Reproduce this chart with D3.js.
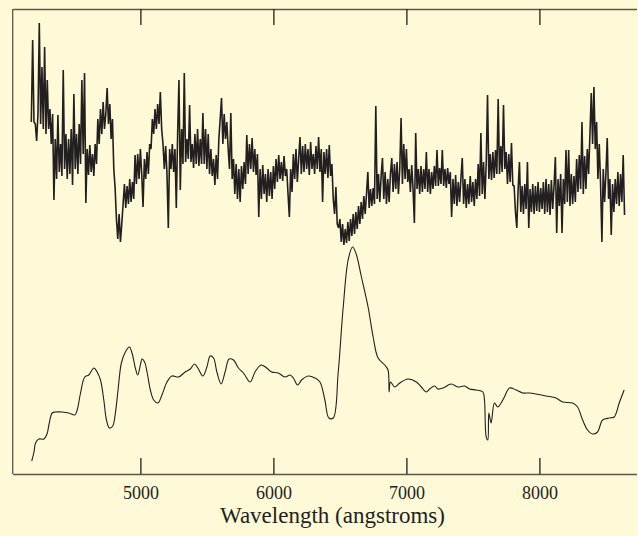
<!DOCTYPE html>
<html><head><meta charset="utf-8">
<script src="https://cdn.jsdelivr.net/npm/d3@7"></script>
<style>
html,body{margin:0;padding:0;background:#fef9d6;}
svg{display:block;}
</style></head>
<body>
<svg id="chart" width="638" height="536"></svg>
<script>
// ---- data ----
const xTicks = [5000, 6000, 7000, 8000];
const xLabel = "Wavelength (angstroms)";

// upper (noisy) spectrum: sampled every 10 Å from 4180 Å, relative flux
const noisyStart = 4180, noisyStep = 10;
const noisyFlux = [
3.52,4.34,3.52,3.50,
3.33,3.60,4.51,3.50,4.07,3.45,4.27,
3.40,3.94,3.45,3.65,3.30,3.60,
2.74,3.35,2.95,3.59,3.02,3.30,2.98,
4.04,3.05,3.40,2.95,3.35,3.00,3.45,2.89,3.80,3.05,
3.40,3.00,3.50,3.10,3.94,3.20,4.01,2.71,
3.25,2.99,3.29,3.02,3.20,2.98,3.30,
3.10,3.55,3.30,3.65,3.40,3.72,3.45,3.60,3.86,3.50,3.70,3.35,3.55,
3.05,2.86,
2.55,2.35,2.60,2.32,2.50,
2.70,2.90,2.66,2.88,2.70,2.95,2.72,2.92,2.75,3.19,
2.90,3.20,2.95,3.25,3.00,2.67,3.15,2.95,3.22,3.00,3.30,
3.25,3.55,3.40,3.65,3.45,3.70,3.50,3.82,3.45,
3.30,3.05,3.28,3.00,2.46,3.25,3.05,3.30,3.02,3.25,
2.66,3.40,3.94,2.84,3.45,3.10,4.01,
3.12,3.35,3.15,3.69,3.12,3.30,
3.06,3.40,3.10,3.45,3.08,3.35,3.10,
3.61,3.10,3.45,3.05,3.40,3.00,3.25,2.98,
3.15,2.89,3.19,2.95,
3.35,3.55,3.76,3.30,3.60,3.35,3.52,3.25,
3.05,3.61,2.95,3.15,2.80,3.10,2.75,3.05,2.72,3.08,2.85,3.12,2.90,
3.39,3.00,3.30,3.05,3.36,3.02,3.25,2.99,3.20,
2.57,3.05,2.75,3.09,2.80,3.00,2.72,3.05,2.78,3.02,2.75,3.08,2.85,
3.15,2.92,3.19,2.95,3.12,2.93,3.18,2.98,
3.05,2.80,2.57,3.05,2.82,
3.20,2.95,3.25,2.92,3.15,3.37,
3.00,3.28,3.02,3.30,3.05,3.25,2.99,3.32,3.05,3.20,3.00,3.28,3.05,3.37,3.02,3.25,2.72,3.22,3.00,
3.25,2.96,3.29,2.98,3.10,
2.75,2.60,2.87,2.50,2.46,
2.55,2.32,2.50,2.29,2.45,2.31,2.52,2.33,2.55,2.38,
2.60,2.40,2.62,2.45,2.68,2.50,2.72,2.55,2.78,2.60,2.80,3.02,
2.66,2.85,2.68,2.86,2.70,
3.68,
2.75,3.00,2.72,2.98,3.16,2.75,3.02,2.70,2.95,2.72,3.00,3.16,
2.82,3.10,2.85,3.12,2.80,3.05,3.56,2.90,
3.30,2.95,3.25,2.92,
3.05,2.82,3.09,2.85,2.51,3.41,2.85,
3.05,2.80,3.08,2.82,3.05,2.85,3.22,2.82,3.05,2.80,3.02,2.85,3.08,2.88,
3.24,2.88,3.06,2.90,3.24,2.88,3.05,2.86,3.06,2.90,3.02,
2.57,2.95,2.70,2.99,2.68,2.92,2.72,2.96,3.16,2.70,2.95,2.66,2.90,2.70,2.98,2.72,2.92,2.68,2.95,
2.75,3.10,2.78,3.41,2.80,3.12,2.75,
3.10,3.79,2.95,3.20,
2.94,3.22,2.96,3.24,3.00,
3.75,3.00,3.28,3.02,3.69,3.05,
3.22,2.90,3.20,2.92,3.31,2.89,
2.88,2.62,2.46,2.85,3.12,2.62,2.88,2.60,2.90,2.65,3.12,2.46,2.85,2.62,2.90,2.60,2.88,2.63,2.92,2.62,2.86,2.65,
2.92,2.60,2.95,2.62,2.90,2.59,2.94,2.65,2.88,3.17,
2.41,2.95,2.68,3.00,2.41,2.95,2.70,3.24,2.72,3.24,2.68,3.00,2.70,2.98,2.72,
3.15,2.82,3.19,2.85,3.52,2.80,3.18,2.85,3.25,3.00,
3.40,3.81,3.30,3.87,3.25,
3.52,2.95,3.30,2.90,2.32,
3.05,2.72,3.00,3.36,2.75,
2.95,2.39,2.90,2.62,2.95,
2.70,3.02,2.68,3.00,2.72,3.19,2.59
];

// lower (smoothed) spectrum: wavelength (Å) and relative flux
const smoothWave = [
4183,4200,4212,4237,4275,4300,4312,4337,4362,4412,4462,4507,4525,4550,4582,4612,4650,4675,4700,4725,
4745,4767,4792,4812,4832,4857,4887,4917,4937,4962,4980,5000,5012,5032,5050,5075,5100,5132,5162,5200,
5237,5287,5337,5375,5407,5432,5470,5500,5525,5550,5575,5607,5637,5667,5700,5737,5775,5825,5862,5907,
5950,5987,6037,6087,6125,6150,6182,6212,6262,6312,6350,6387,6417,6450,6487,6525,6562,6595,6620,6662,
6712,6750,6787,6837,6862,6870,6880,6912,6950,7012,7075,7112,7150,7175,7212,7237,7275,7337,7387,7437,
7475,7525,7575,7587,7600,7612,7620,7637,7662,7687,7712,7737,7775,7825,7875,7925,7975,8050,8125,8175,
8250,8287,8325,8362,8400,8437,8475,8525,8562,8600,8637
];
const smoothFlux = [
0.13,0.22,0.31,0.35,0.35,0.41,0.49,0.61,0.62,0.62,0.61,0.59,0.64,0.81,0.97,0.99,1.06,1.02,0.94,0.74,
0.54,0.46,0.48,0.61,0.84,1.11,1.22,1.27,1.21,1.06,0.99,1.09,1.15,1.12,1.02,0.84,0.74,0.71,0.79,0.92,
0.98,0.97,1.02,1.05,1.10,1.06,0.98,1.07,1.18,1.16,1.02,0.90,1.02,1.15,1.14,1.06,1.01,0.92,1.02,1.09,
1.06,1.02,1.01,0.97,0.99,0.96,0.89,0.94,0.98,0.96,0.92,0.74,0.56,0.56,1.01,1.67,2.14,2.27,2.21,1.97,
1.67,1.37,1.16,1.09,1.04,0.82,0.92,0.87,0.91,0.95,0.92,0.87,0.82,0.85,0.88,0.85,0.86,0.90,0.87,0.88,
0.85,0.84,0.82,0.74,0.37,0.34,0.61,0.51,0.71,0.67,0.71,0.77,0.86,0.84,0.81,0.81,0.80,0.78,0.76,0.72,
0.71,0.67,0.54,0.44,0.40,0.42,0.54,0.56,0.57,0.71,0.84
];

// ---- drawing ----
const svg = d3.select("#chart");
const W = 638, H = 536;
const plot = {left: 12.7, right: 636.5, top: 9, bottom: 474};
const ink = "#231f20";
const frame = "#5b5650";

svg.append("rect").attr("width", W).attr("height", H).attr("fill", "#fef9d6");

const x = d3.scaleLinear().domain([4040, 8730]).range([plot.left, plot.right]);
const y = d3.scaleLinear().domain([0, 4.65]).range([plot.bottom, plot.top]);

const noisy = noisyFlux.map((f, i) => ({w: noisyStart + noisyStep * i, f}));
const smooth = smoothWave.map((w, i) => ({w, f: smoothFlux[i]}));

svg.append("path").datum(smooth)
  .attr("d", d3.line().x(d => x(d.w)).y(d => y(d.f)).curve(d3.curveCatmullRom.alpha(0.5)))
  .attr("fill", "none").attr("stroke", ink).attr("stroke-width", 1.1)
  .attr("stroke-linejoin", "round");

svg.append("path").datum(noisy)
  .attr("d", d3.line().x(d => x(d.w)).y(d => y(d.f)))
  .attr("fill", "none").attr("stroke", ink).attr("stroke-width", 1.6)
  .attr("stroke-linejoin", "miter").attr("stroke-miterlimit", 2);

// axes (ticks pointing inward)
const bottomAxis = d3.axisBottom(x).tickValues(xTicks).tickFormat(d3.format("d"))
  .tickSizeInner(-16).tickSizeOuter(0).tickPadding(12);
const gB = svg.append("g").attr("transform", `translate(0,${plot.bottom})`).call(bottomAxis);
gB.select(".domain").attr("stroke", frame).attr("stroke-width", 1.3);
gB.selectAll(".tick line").attr("stroke", ink).attr("stroke-width", 1.3);
gB.selectAll(".tick text")
  .attr("font-family", "'Liberation Serif','Times New Roman',serif")
  .attr("font-size", 18).attr("fill", ink);

const topAxis = d3.axisTop(x).tickValues(xTicks).tickSizeInner(-16).tickSizeOuter(0).tickFormat("");
const gT = svg.append("g").attr("transform", `translate(0,${plot.top})`).call(topAxis);
gT.select(".domain").attr("stroke", frame).attr("stroke-width", 1.3);
gT.selectAll(".tick line").attr("stroke", ink).attr("stroke-width", 1.3);

svg.append("line")
  .attr("x1", plot.left).attr("x2", plot.left)
  .attr("y1", plot.top).attr("y2", plot.bottom)
  .attr("stroke", frame).attr("stroke-width", 1.3);

svg.append("text")
  .attr("x", 332.5).attr("y", 523)
  .attr("text-anchor", "middle")
  .attr("font-family", "'Liberation Serif','Times New Roman',serif")
  .attr("font-size", 23).attr("fill", ink)
  .text(xLabel);
</script>
</body></html>
